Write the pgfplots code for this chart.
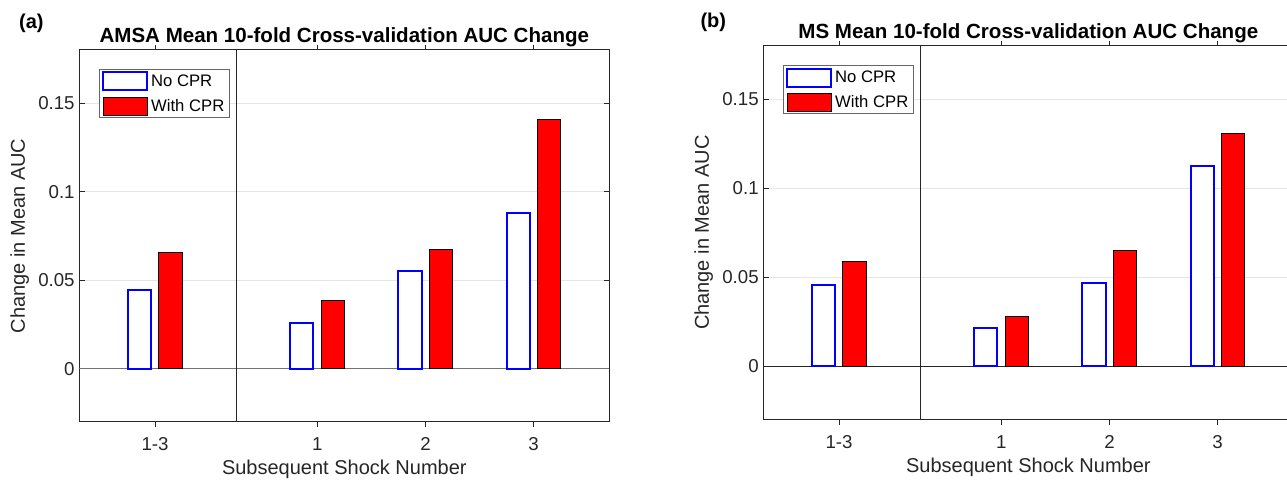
\documentclass[border=0pt]{standalone}
\usepackage{pgfplots}
\pgfplotsset{compat=1.18}
\usepackage{fontspec}
\setmainfont{Liberation Sans}
\definecolor{axgray}{rgb}{0.15,0.15,0.15}
\definecolor{mred}{rgb}{1,0,0}
\definecolor{mblue}{rgb}{0,0,1}

\pgfplotstableread{
x   no     with
0   0.0445 0.0656
1.5 0.0256 0.0386
2.5 0.0549 0.0675
3.5 0.0878 0.1406
}\amsa
\pgfplotstableread{
x   no     with
0   0.0453 0.0590
1.5 0.0213 0.0281
2.5 0.0466 0.0648
3.5 0.1127 0.1309
}\ms

\pgfplotsset{
  panel/.style={
    scale only axis, anchor=south west,
    width=397.5pt,
    xmin=-0.7, xmax=4.2, ymin=-0.03, ymax=0.18,
    xtick={0,1.5,2.5,3.5}, xticklabels={1-3,1,2,3},
    ytick={0,0.05,0.1,0.15}, yticklabels={0,0.05,0.1,0.15},
    ymajorgrids, major grid style={black!10, line width=0.75pt},
    tick align=inside, major tick length=4pt,
    axis line style={axgray, line width=0.75pt},
    tick style={axgray, line width=0.75pt},
    ticklabel style={font=\fontsize{14}{16}\selectfont, text=axgray},
    xticklabel style={yshift=-4.5pt},
    label style={font=\fontsize{15}{17}\selectfont, text=axgray},
    title style={font=\bfseries\fontsize{15.4}{17}\selectfont, text=black, yshift=-7.5pt},
    xlabel={Subsequent Shock Number}, ylabel={Change in Mean AUC},
    ybar, bar width=0.215,
    legend style={at={(rel axis cs:0.0377,0.949)}, anchor=north west,
      draw=black!60, line width=0.75pt, font=\fontsize{12.5}{14}\selectfont,
      inner xsep=2pt, inner ysep=1.5pt, row sep=4pt,
      nodes={inner xsep=2pt, inner ysep=1pt}},
    legend cell align=left,
    legend image code/.code={\draw[##1] (0pt,-6.75pt) rectangle (33pt,6.75pt);},
  },
  nobar/.style={draw=mblue, fill=white, line width=1.5pt, bar shift=-0.143},
  withbar/.style={draw=black, fill=mred, line width=0.75pt, bar shift=0.143},
}

\begin{document}
\begin{tikzpicture}
\path[use as bounding box] (0pt,0pt) rectangle (965.25pt,-363pt);

\begin{axis}[panel, at={(59.5pt,-316.3pt)}, height=278.8pt,
  title={AMSA Mean 10-fold Cross-validation AUC Change}]
  \draw[black!55, line width=0.75pt] (axis cs:-0.7,0) -- (axis cs:4.2,0);
  \draw[axgray, line width=0.75pt] (axis cs:0.75,-0.03) -- (axis cs:0.75,0.18);
  \addplot[nobar] table[x=x, y=no] {\amsa};
  \addplot[withbar] table[x=x, y=with] {\amsa};
  \legend{No CPR, With CPR}
\end{axis}

\begin{axis}[panel, at={(572.5pt,-314.5pt)}, height=280pt,
  title={MS Mean 10-fold Cross-validation AUC Change}]
  \draw[axgray, line width=0.75pt] (axis cs:-0.7,0) -- (axis cs:4.2,0);
  \draw[axgray, line width=0.75pt] (axis cs:0.75,-0.03) -- (axis cs:0.75,0.18);
  \addplot[nobar] table[x=x, y=no] {\ms};
  \addplot[withbar] table[x=x, y=with] {\ms};
  \legend{No CPR, With CPR}
\end{axis}

\node[font=\bfseries\fontsize{15}{17}\selectfont] at (23.5pt,-17.5pt) {(a)};
\node[font=\bfseries\fontsize{15}{17}\selectfont] at (535pt,-16.5pt) {(b)};
\end{tikzpicture}
\end{document}
